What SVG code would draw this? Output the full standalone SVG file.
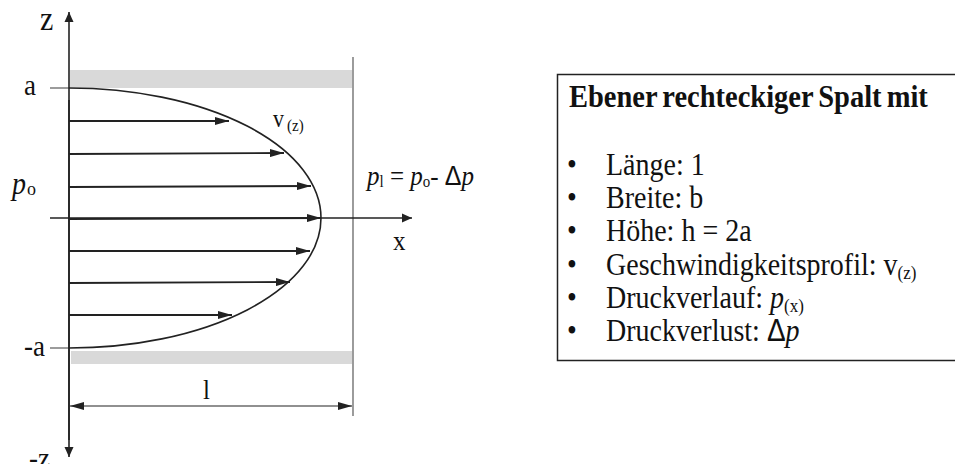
<svg xmlns="http://www.w3.org/2000/svg" width="955" height="464" viewBox="0 0 955 464">
<style>
.t{font-family:"Liberation Serif","Times New Roman",serif;fill:#111}
.ax{stroke:#222;stroke-width:1.6;fill:none}
.thin{stroke:#666;stroke-width:1.3;fill:none}
.va{stroke:#222;stroke-width:1.8;fill:none;marker-end:url(#ah)}
.band{fill:#d9d9d9}
</style>
<defs>
<marker id="ah" viewBox="0 0 14 8" refX="14" refY="4" markerWidth="14" markerHeight="8" markerUnits="userSpaceOnUse" orient="auto">
<path d="M0,0 L14,4 L0,8 Z" fill="#222"/>
</marker>
<marker id="ax" viewBox="0 0 10 10" refX="10" refY="5" markerWidth="10" markerHeight="10" markerUnits="userSpaceOnUse" orient="auto">
<path d="M0,0.5 L10,5 L0,9.5 Z" fill="#222"/>
</marker>
<marker id="dim" viewBox="0 0 14 8" refX="14" refY="4" markerWidth="14" markerHeight="8" markerUnits="userSpaceOnUse" orient="auto-start-reverse">
<path d="M0,0 L14,4 L0,8 Z" fill="#222"/>
</marker>
</defs>
<g id="walls">
<rect class="band" x="70" y="70" width="282" height="18"/>
<rect class="band" x="71" y="351" width="281" height="13"/>
<line class="thin" x1="353" y1="57" x2="353" y2="416"/>
<line class="thin" x1="50" y1="88" x2="69" y2="88"/>
<line class="thin" x1="50" y1="348" x2="69" y2="348"/>
</g>
<g id="connectors">
<line class="ax" x1="69" y1="440" x2="69" y2="12" marker-end="url(#ax)"/>
<line class="ax" x1="69" y1="100" x2="69" y2="457" marker-end="url(#ax)"/>
<line class="ax" x1="50" y1="218" x2="412" y2="218" marker-end="url(#ax)"/>
<path class="ax" d="M69,88 A252,130 0 0 1 69,348"/>
<line class="va" x1="69" y1="121" x2="229" y2="121"/>
<line class="va" x1="69" y1="154" x2="284" y2="153"/>
<line class="va" x1="69" y1="187" x2="311" y2="186"/>
<line class="va" x1="69" y1="219" x2="321" y2="218"/>
<line class="va" x1="69" y1="251" x2="310" y2="251"/>
<line class="va" x1="69" y1="283" x2="290" y2="282"/>
<line class="va" x1="69" y1="315" x2="232" y2="315"/>
<line stroke="#222" stroke-width="1.2" x1="70" y1="406" x2="352" y2="406" marker-start="url(#dim)" marker-end="url(#dim)"/>
</g>
<g id="labels">
<text class="t" transform="translate(40,30) scale(1,1.1)" font-size="30">z</text>
<text class="t" transform="translate(24,95) scale(1,1.1)" font-size="27">a</text>
<text class="t" transform="translate(12,194) scale(1,1.1)" font-size="28" font-style="italic">p</text>
<text class="t" transform="translate(27,195) scale(1,1.1)" font-size="18">o</text>
<text class="t" transform="translate(273,127) scale(1,1.1)" font-size="22">v</text>
<text class="t" transform="translate(287,131) scale(1,1.1)" font-size="15">(z)</text>
<text class="t" transform="translate(24,356) scale(1,1.1)" font-size="27">-a</text>
<text class="t" transform="translate(203,399) scale(1,1.1)" font-size="25">l</text>
<text class="t" transform="translate(393,250) scale(1,1.1)" font-size="25">x</text>
<text class="t" transform="translate(29,468) scale(1,1.1)" font-size="27">-z</text>
<text class="t" transform="translate(367,185) scale(1,1.1)" font-size="25"><tspan font-style="italic">p</tspan><tspan font-size="15" dy="2">l</tspan><tspan dy="-2"> = </tspan><tspan font-style="italic">p</tspan><tspan font-size="15" dy="2">o</tspan><tspan dy="-2">- </tspan><tspan font-family="Liberation Sans,Arial,sans-serif">Δ</tspan><tspan font-style="italic">p</tspan></text>
</g>
<g id="infobox">
<rect x="557.5" y="74.5" width="420" height="286" fill="none" stroke="#222" stroke-width="1.5"/>
<text class="t" transform="translate(569,107) scale(1,1.08)" font-size="28.5" font-weight="bold" word-spacing="-2">Ebener rechteckiger Spalt mit</text>
<g class="t" font-size="28">
<text transform="translate(567,175) scale(1,1.1)">•</text><text transform="translate(606,175) scale(1,1.1)">Länge: 1</text>
<text transform="translate(567,208) scale(1,1.1)">•</text><text transform="translate(606,208) scale(1,1.1)">Breite: b</text>
<text transform="translate(567,241) scale(1,1.1)">•</text><text transform="translate(606,241) scale(1,1.1)">Höhe: h = 2a</text>
<text transform="translate(567,275) scale(1,1.1)">•</text><text transform="translate(606,275) scale(1,1.1)">Geschwindigkeitsprofil: v<tspan font-size="17" dy="4">(z)</tspan></text>
<text transform="translate(567,308) scale(1,1.1)">•</text><text transform="translate(606,308) scale(1,1.1)">Druckverlauf: <tspan font-style="italic">p</tspan><tspan font-size="17" dy="4">(x)</tspan></text>
<text transform="translate(567,341) scale(1,1.1)">•</text><text transform="translate(606,341) scale(1,1.1)">Druckverlust: <tspan font-family="Liberation Sans,Arial,sans-serif">Δ</tspan><tspan font-style="italic">p</tspan></text>
</g>
</g>
</svg>
